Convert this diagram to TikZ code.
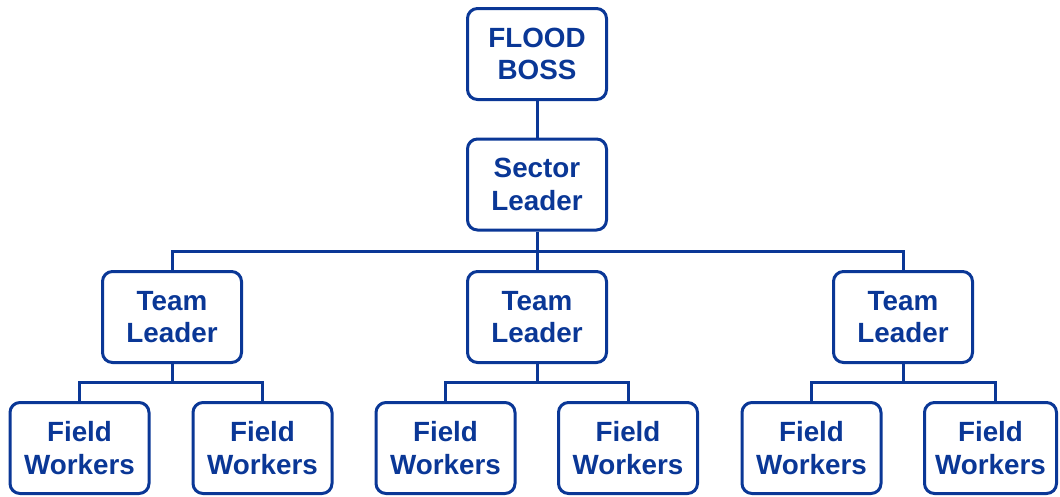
\documentclass[tikz,border=0pt]{standalone}
\usepackage{fontspec}
\setmainfont{Liberation Sans}
\definecolor{navy}{HTML}{0A3796}
\begin{document}
\begin{tikzpicture}[x=1pt,y=1pt,
  box/.style={draw=navy, line width=3pt, rounded corners=10pt, minimum width=139pt, minimum height=91pt,
    align=center, text=navy, inner sep=0pt, font=\fontsize{27.8}{32.6}\selectfont\bfseries},
  link/.style={draw=navy, line width=3pt}]
\useasboundingbox (0,0) rectangle (1060,-496);
\node[box] (boss) at (537,-54) {FLOOD\\BOSS};
\node[box] (sector) at (537,-184.5) {Sector\\Leader};
\node[box] (tl1) at (172,-317) {Team\\Leader};
\node[box] (tl2) at (537,-317) {Team\\Leader};
\node[box] (tl3) at (903,-317) {Team\\Leader};
\node[box] (fw1) at (79.5,-448) {Field\\Workers};
\node[box] (fw2) at (262.5,-448) {Field\\Workers};
\node[box] (fw3) at (445.5,-448) {Field\\Workers};
\node[box] (fw4) at (628,-448) {Field\\Workers};
\node[box] (fw5) at (811.5,-448) {Field\\Workers};
\node[box, minimum width=132pt] (fw6) at (990.5,-448) {Field\\Workers};
\coordinate (bus0) at (537,-251);
\coordinate (bus1) at (172,-382);
\coordinate (bus2) at (537,-382);
\coordinate (bus3) at (903,-382);
\path[link] (boss) -- (sector);
\path[link] (sector.south) -- (bus0);
\path[link] (bus0) -| (tl1.north);
\path[link] (bus0) -| (tl3.north);
\path[link] (bus0) -- (tl2.north);
\path[link] (tl1.south) -- (bus1);
\path[link] (bus1) -| (fw1.north);
\path[link] (bus1) -| (fw2.north);
\path[link] (tl2.south) -- (bus2);
\path[link] (bus2) -| (fw3.north);
\path[link] (bus2) -| (fw4.north);
\path[link] (tl3.south) -- (bus3);
\path[link] (bus3) -| (fw5.north);
\path[link] (bus3) -| ([xshift=4.5pt]fw6.north);
\end{tikzpicture}
\end{document}
